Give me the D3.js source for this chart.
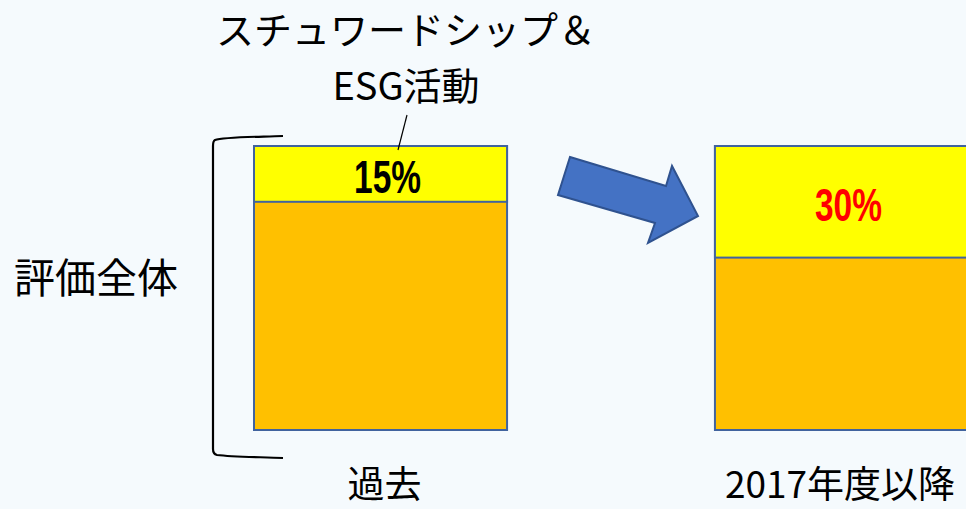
<!DOCTYPE html>
<html>
<head>
<meta charset="utf-8">
<script src="https://cdn.jsdelivr.net/npm/d3@7"></script>
<style>
  html, body { margin: 0; padding: 0; background: #F5FAFD; overflow: hidden; }
  svg { display: block; font-family: "Noto Sans CJK JP", "Noto Sans", sans-serif; }
</style>
</head>
<body>
<svg id="chart" width="966" height="509"></svg>
<script>
// data
const categories = ["過去", "2017年度以降"];
const esgShare = [15, 30];            // % of total evaluation
const esgLabel = "スチュワードシップ＆\nESG活動";
const totalLabel = "評価全体";

const svg = d3.select("#chart");
const barTop = 146, barBottom = 430;

// bars placed with a band scale
const x = d3.scaleBand().domain(categories).range([254, 968]).paddingInner(0.451).paddingOuter(0);
// share -> pixel height of the yellow segment
const h = d3.scaleLinear().domain([0, 100]).range([0, 372]);

const rows = categories.map((c, i) => ({ cat: c, share: esgShare[i], i }));

const g = svg.append("g");

// whole bar (orange)
g.selectAll("rect.total").data(rows).enter().append("rect")
  .attr("class", "total")
  .attr("x", d => x(d.cat)).attr("y", barTop)
  .attr("width", x.bandwidth()).attr("height", barBottom - barTop)
  .attr("fill", "#FFC000").attr("stroke", "#41639E").attr("stroke-width", 2);

// ESG part (yellow)
g.selectAll("rect.esg").data(rows).enter().append("rect")
  .attr("class", "esg")
  .attr("x", d => x(d.cat)).attr("y", barTop)
  .attr("width", x.bandwidth()).attr("height", d => h(d.share))
  .attr("fill", "#FFFF00").attr("stroke", "#41639E").attr("stroke-width", 2);

// percentage labels
g.selectAll("text.pct").data(rows).enter().append("text")
  .attr("class", "pct")
  .attr("x", d => x(d.cat) + x.bandwidth() / 2 + 7)
  .attr("y", d => barTop + h(d.share) / 2 + 19)
  .attr("text-anchor", "middle")
  .attr("font-family", "'Liberation Sans Narrow', 'Liberation Sans', Arial, sans-serif")
  .attr("font-weight", "bold")
  .attr("font-size", 46)
  .attr("textLength", 67).attr("lengthAdjust", "spacingAndGlyphs")
  .attr("fill", d => d.i === 1 ? "#FF0000" : "#000")
  .text(d => d.share + "%");

// category labels under bars
g.selectAll("text.cat").data(rows).enter().append("text")
  .attr("class", "cat")
  .attr("x", d => d.i === 0 ? x(d.cat) + x.bandwidth() / 2 + 4 : x(d.cat) + 10)
  .attr("y", 498)
  .attr("text-anchor", d => d.i === 0 ? "middle" : "start")
  .attr("font-size", 37)
  .attr("fill", "#000")
  .text(d => d.cat);

// ESG title
const tl = esgLabel.split("\n");
svg.append("text")
  .attr("x", 406).attr("y", 44)
  .attr("text-anchor", "middle").attr("font-size", 38).attr("fill", "#000")
  .selectAll("tspan").data(tl).enter().append("tspan")
  .attr("x", 406).attr("dy", (d, i) => i === 0 ? 0 : 56)
  .text(d => d);

// leader line
svg.append("line")
  .attr("x1", 407).attr("y1", 115).attr("x2", 398).attr("y2", 150)
  .attr("stroke", "#000").attr("stroke-width", 1.2);

// bracket
const bx = x(categories[0]) - 41;
svg.append("path")
  .attr("d", `M${bx + 70},136 C${bx + 40},137 ${bx + 10},137 ${bx + 2},140 Q${bx},141 ${bx},146
              L${bx},449 Q${bx},454 ${bx + 4},455 C${bx + 20},457 ${bx + 45},457 ${bx + 70},458`)
  .attr("fill", "none").attr("stroke", "#000").attr("stroke-width", 2.2);

svg.append("text")
  .attr("x", 14).attr("y", 293)
  .attr("font-size", 41).attr("fill", "#000")
  .text(totalLabel);

// arrow
const arrow = [[570, 157], [666, 186], [672, 166], [698, 216], [648, 243], [655, 223], [558, 195]];
svg.append("path")
  .attr("d", d3.line()(arrow) + "Z")
  .attr("fill", "#4472C4").attr("stroke", "#2F528F").attr("stroke-width", 2)
  .attr("stroke-linejoin", "miter");
</script>
</body>
</html>
